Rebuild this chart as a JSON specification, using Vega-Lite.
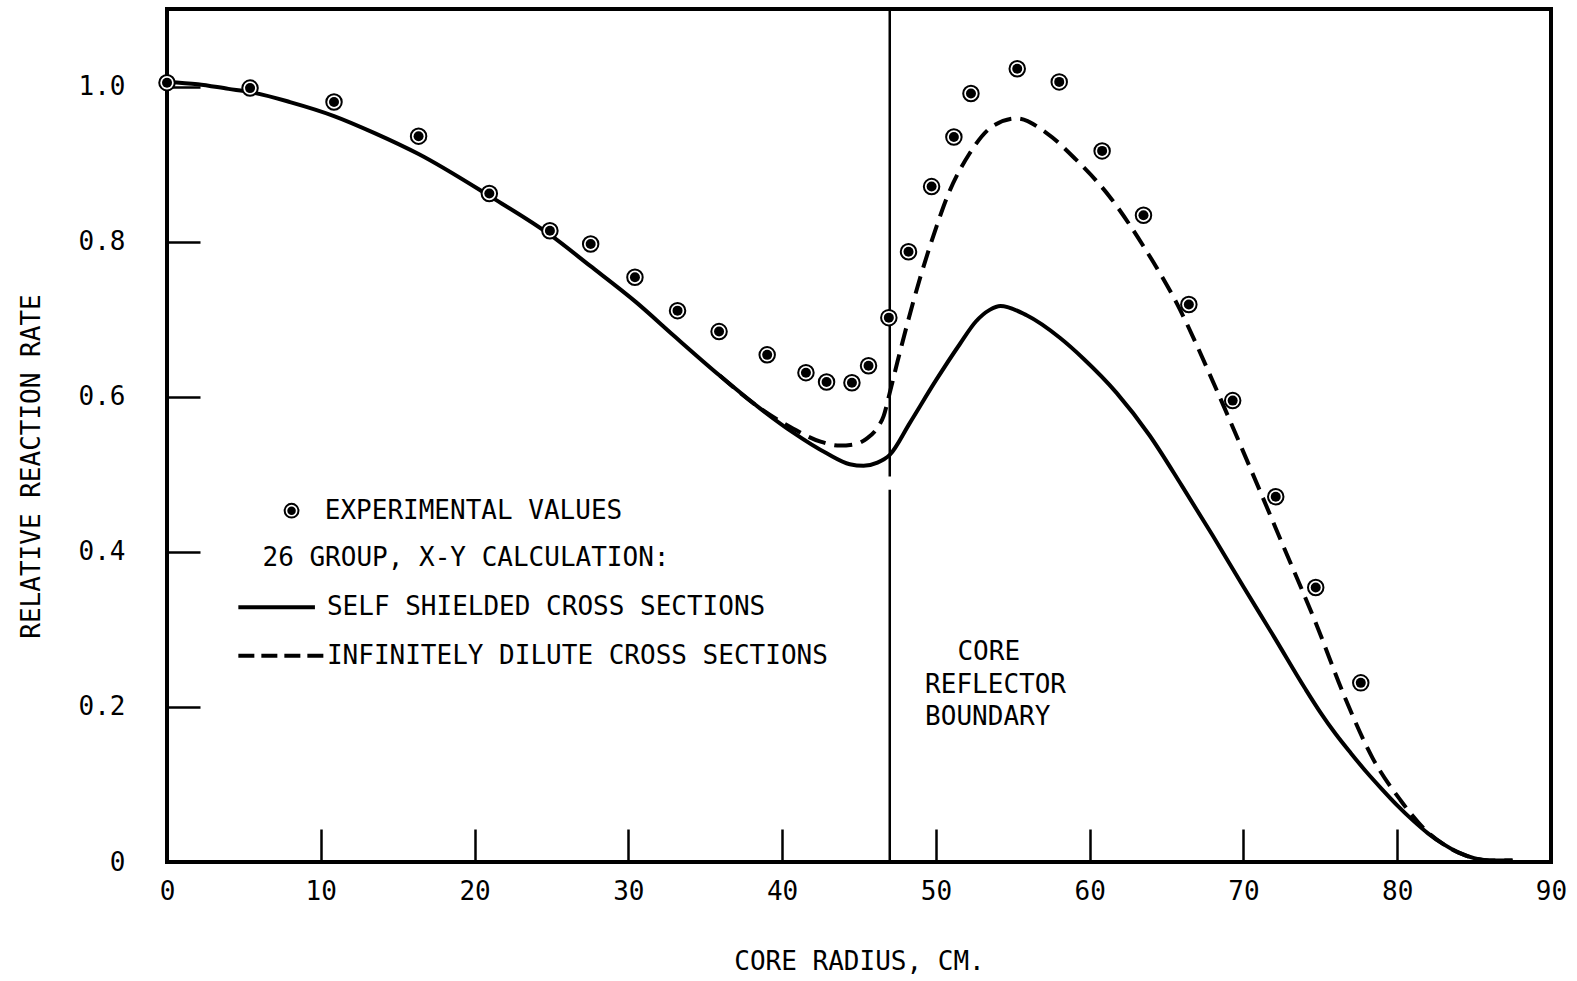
{
  "$schema": "https://vega.github.io/schema/vega-lite/v6.json",
  "width": 1384,
  "height": 853,
  "autosize": {"type": "none"},
  "padding": {"left": 167, "top": 9, "right": 26, "bottom": 119},
  "background": "white",
  "config": {
    "view": {"stroke": "black", "strokeWidth": 4},
    "font": "DejaVu Sans Mono",
    "axis": {
      "domain": false,
      "grid": false,
      "tickColor": "black",
      "tickWidth": 2.5,
      "tickSize": -33,
      "labelColor": "black",
      "labelFont": "DejaVu Sans Mono",
      "labelFontSize": 26,
      "titleColor": "black",
      "titleFont": "DejaVu Sans Mono",
      "titleFontSize": 26,
      "titleFontWeight": "normal"
    }
  },
  "datasets": {
    "solid": [
      {"r": 0, "v": 1.006}, {"r": 2, "v": 1.003}, {"r": 4, "v": 0.997}, {"r": 5.4, "v": 0.993},
      {"r": 8, "v": 0.98}, {"r": 10.86, "v": 0.962}, {"r": 13.5, "v": 0.94}, {"r": 16.36, "v": 0.913},
      {"r": 20.96, "v": 0.859}, {"r": 24.9, "v": 0.809}, {"r": 27.5, "v": 0.769}, {"r": 30.5, "v": 0.722},
      {"r": 33, "v": 0.678}, {"r": 35.96, "v": 0.627}, {"r": 38.56, "v": 0.585}, {"r": 40.7, "v": 0.554},
      {"r": 42.9, "v": 0.527}, {"r": 44.4, "v": 0.513}, {"r": 45.3, "v": 0.511}, {"r": 46.2, "v": 0.515},
      {"r": 47, "v": 0.525}, {"r": 48.3, "v": 0.566}, {"r": 50, "v": 0.621}, {"r": 51.56, "v": 0.668},
      {"r": 52.6, "v": 0.697}, {"r": 53.5, "v": 0.712}, {"r": 54.2, "v": 0.717}, {"r": 55.9, "v": 0.705},
      {"r": 58.06, "v": 0.676}, {"r": 59.6, "v": 0.649}, {"r": 61.75, "v": 0.605}, {"r": 63.9, "v": 0.550},
      {"r": 66, "v": 0.485}, {"r": 68, "v": 0.421}, {"r": 70, "v": 0.355}, {"r": 72, "v": 0.29},
      {"r": 74, "v": 0.224}, {"r": 75, "v": 0.193}, {"r": 76, "v": 0.165}, {"r": 77, "v": 0.14},
      {"r": 78, "v": 0.116}, {"r": 79, "v": 0.094}, {"r": 80, "v": 0.073}, {"r": 81, "v": 0.054},
      {"r": 82, "v": 0.037}, {"r": 83, "v": 0.023}, {"r": 84, "v": 0.012}, {"r": 85, "v": 0.005},
      {"r": 86, "v": 0.002}, {"r": 87.5, "v": 0.002}
    ],
    "dilute": [
      {"r": 35.96, "v": 0.627}, {"r": 38.3, "v": 0.589}, {"r": 40.7, "v": 0.559}, {"r": 42.5, "v": 0.542},
      {"r": 43.76, "v": 0.537}, {"r": 44.8, "v": 0.539}, {"r": 45.5, "v": 0.546}, {"r": 46.2, "v": 0.56},
      {"r": 46.6, "v": 0.575}, {"r": 47, "v": 0.605}, {"r": 47.5, "v": 0.645}, {"r": 48.1, "v": 0.691},
      {"r": 49, "v": 0.755}, {"r": 50.05, "v": 0.82}, {"r": 50.7, "v": 0.856}, {"r": 52.2, "v": 0.914},
      {"r": 53.7, "v": 0.949}, {"r": 55.25, "v": 0.959}, {"r": 57.2, "v": 0.94}, {"r": 59.1, "v": 0.906},
      {"r": 61.3, "v": 0.858}, {"r": 63.5, "v": 0.794}, {"r": 65.65, "v": 0.721}, {"r": 68.25, "v": 0.609},
      {"r": 70.4, "v": 0.51}, {"r": 72.6, "v": 0.407}, {"r": 74.75, "v": 0.306}, {"r": 76.6, "v": 0.212},
      {"r": 78.4, "v": 0.134}, {"r": 80.2, "v": 0.08}, {"r": 81.9, "v": 0.04}, {"r": 83, "v": 0.023},
      {"r": 84, "v": 0.012}, {"r": 85, "v": 0.005}, {"r": 86, "v": 0.002}, {"r": 87.5, "v": 0.002}
    ],
    "points": [
      {"r": 0, "v": 1.005}, {"r": 5.4, "v": 0.998}, {"r": 10.86, "v": 0.98}, {"r": 16.36, "v": 0.936},
      {"r": 20.96, "v": 0.862}, {"r": 24.9, "v": 0.814}, {"r": 27.55, "v": 0.797}, {"r": 30.43, "v": 0.754},
      {"r": 33.2, "v": 0.711}, {"r": 35.9, "v": 0.684}, {"r": 39.03, "v": 0.654}, {"r": 41.55, "v": 0.631},
      {"r": 42.89, "v": 0.619}, {"r": 44.54, "v": 0.618}, {"r": 45.62, "v": 0.64}, {"r": 46.94, "v": 0.702},
      {"r": 48.22, "v": 0.787}, {"r": 49.72, "v": 0.871}, {"r": 51.17, "v": 0.935}, {"r": 52.28, "v": 0.991},
      {"r": 55.29, "v": 1.023}, {"r": 58.02, "v": 1.006}, {"r": 60.81, "v": 0.917}, {"r": 63.5, "v": 0.834},
      {"r": 66.45, "v": 0.719}, {"r": 69.3, "v": 0.595}, {"r": 72.1, "v": 0.471}, {"r": 74.7, "v": 0.354},
      {"r": 77.63, "v": 0.231}
    ],
    "boundary": [
      {"r": 47, "v0": 0, "v1": 0.48}, {"r": 47, "v0": 0.497, "v1": 1.1}
    ],
    "legendSymbol": [{"r": 8.1, "v": 0.453}],
    "legendSolid": [{"r": 4.64, "v": 0.3285}, {"r": 9.62, "v": 0.3285}],
    "legendDash": [{"r": 4.64, "v": 0.266}, {"r": 10.2, "v": 0.266}],
    "labelsLeft": [
      {"r": 10.26, "v": 0.453, "t": "EXPERIMENTAL VALUES"},
      {"r": 6.21, "v": 0.392, "t": "26 GROUP, X-Y CALCULATION:"},
      {"r": 10.4, "v": 0.3285, "t": "SELF SHIELDED CROSS SECTIONS"},
      {"r": 10.4, "v": 0.266, "t": "INFINITELY DILUTE CROSS SECTIONS"},
      {"r": 51.4, "v": 0.271, "t": "CORE"},
      {"r": 49.3, "v": 0.228, "t": "REFLECTOR"},
      {"r": 49.3, "v": 0.1875, "t": "BOUNDARY"}
    ]
  },
  "layer": [
    {
      "data": {"name": "boundary"},
      "mark": {"type": "rule", "color": "black", "strokeWidth": 2.5},
      "encoding": {
        "x": {"field": "r", "type": "quantitative", "scale": {"domain": [0, 90], "nice": false, "zero": false},
          "axis": {"values": [0, 10, 20, 30, 40, 50, 60, 70, 80, 90], "title": "CORE RADIUS, CM.", "labelPadding": 49, "titlePadding": 44, "labelFlush": false, "labelOverlap": false}},
        "y": {"field": "v0", "type": "quantitative", "scale": {"domain": [0, 1.1], "nice": false},
          "axis": {"values": [0, 0.2, 0.4, 0.6, 0.8, 1.0], "title": "RELATIVE REACTION RATE", "labelPadding": 75, "titlePadding": 34, "titleY": 457, "labelFlush": false, "labelOverlap": false,
            "labelExpr": "datum.value == 0 ? '0' : format(datum.value, '.1f')"}},
        "y2": {"field": "v1"}
      }
    },
    {
      "data": {"name": "solid"},
      "mark": {"type": "line", "color": "black", "strokeWidth": 4, "interpolate": "monotone"},
      "encoding": {
        "x": {"field": "r", "type": "quantitative"},
        "y": {"field": "v", "type": "quantitative"}
      }
    },
    {
      "data": {"name": "dilute"},
      "mark": {"type": "line", "color": "black", "strokeWidth": 4, "strokeDash": [18, 9], "interpolate": "monotone"},
      "encoding": {
        "x": {"field": "r", "type": "quantitative"},
        "y": {"field": "v", "type": "quantitative"}
      }
    },
    {
      "data": {"name": "points"},
      "mark": {"type": "point", "shape": "circle", "filled": false, "fill": "white", "fillOpacity": 1, "stroke": "black", "strokeWidth": 2, "size": 240, "opacity": 1},
      "encoding": {
        "x": {"field": "r", "type": "quantitative"},
        "y": {"field": "v", "type": "quantitative"}
      }
    },
    {
      "data": {"name": "points"},
      "mark": {"type": "circle", "color": "black", "size": 100, "opacity": 1},
      "encoding": {
        "x": {"field": "r", "type": "quantitative"},
        "y": {"field": "v", "type": "quantitative"}
      }
    },
    {
      "data": {"name": "legendSymbol"},
      "mark": {"type": "point", "shape": "circle", "filled": false, "fill": "white", "fillOpacity": 1, "stroke": "black", "strokeWidth": 2, "size": 190, "opacity": 1},
      "encoding": {
        "x": {"field": "r", "type": "quantitative"},
        "y": {"field": "v", "type": "quantitative"}
      }
    },
    {
      "data": {"name": "legendSymbol"},
      "mark": {"type": "circle", "color": "black", "size": 72, "opacity": 1},
      "encoding": {
        "x": {"field": "r", "type": "quantitative"},
        "y": {"field": "v", "type": "quantitative"}
      }
    },
    {
      "data": {"name": "legendSolid"},
      "mark": {"type": "line", "color": "black", "strokeWidth": 4},
      "encoding": {
        "x": {"field": "r", "type": "quantitative"},
        "y": {"field": "v", "type": "quantitative"}
      }
    },
    {
      "data": {"name": "legendDash"},
      "mark": {"type": "line", "color": "black", "strokeWidth": 4, "strokeDash": [16, 7]},
      "encoding": {
        "x": {"field": "r", "type": "quantitative"},
        "y": {"field": "v", "type": "quantitative"}
      }
    },
    {
      "data": {"name": "labelsLeft"},
      "mark": {"type": "text", "align": "left", "baseline": "middle", "fontSize": 26, "font": "DejaVu Sans Mono", "color": "black"},
      "encoding": {
        "x": {"field": "r", "type": "quantitative"},
        "y": {"field": "v", "type": "quantitative"},
        "text": {"field": "t"}
      }
    }
  ]
}
